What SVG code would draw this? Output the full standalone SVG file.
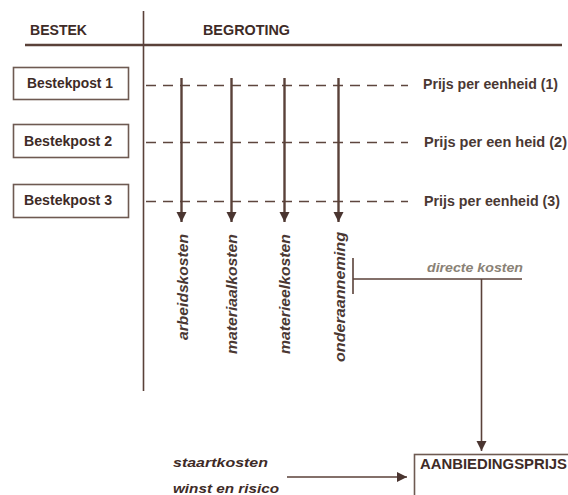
<svg xmlns="http://www.w3.org/2000/svg" width="568" height="495" viewBox="0 0 568 495">
  <style>
    .ink { fill: #3e2b27; font-family: "Liberation Sans", Arial, sans-serif; }
    .head { font-weight: bold; font-size: 14px; }
    .box { fill: #ffffff; stroke: #6e5a52; stroke-width: 1.6; }
    .lbl { font-weight: bold; font-size: 14px; }
    .price { font-size: 14px; font-weight: bold; fill: #4a3833; }
    .rot { font-size: 14px; font-weight: bold; font-style: italic; fill: #4a3833; }
    .line { stroke: #5a4139; stroke-width: 1.6; fill: none; }
    .thick { stroke: #5a4139; stroke-width: 2.4; fill: none; }
    .dash { stroke: #5e463e; stroke-width: 1.7; stroke-dasharray: 10 7; fill: none; }
    .grey { fill: #8a8276; font-family: "Liberation Sans", Arial, sans-serif; font-weight: bold; font-style: italic; font-size: 12px; }
    .it { font-weight: bold; font-style: italic; font-size: 13px; }
  </style>
  <defs>
    <marker id="head" viewBox="0 0 10 12" refX="10" refY="6" markerWidth="10" markerHeight="12" markerUnits="userSpaceOnUse" orient="auto">
      <path d="M0,1 L10,6 L0,11 Z" fill="#4a3530"/>
    </marker>
  </defs>

  <!-- column headers and frame -->
  <g id="header">
    <text class="ink head" x="30" y="35" textLength="57" lengthAdjust="spacingAndGlyphs">BESTEK</text>
    <text class="ink head" x="203" y="35" textLength="87" lengthAdjust="spacingAndGlyphs">BEGROTING</text>
    <line class="thick" x1="25" y1="45" x2="562" y2="45"/>
    <line class="line" x1="143.5" y1="11" x2="143.5" y2="391"/>
  </g>

  <!-- specification items -->
  <g id="bestekpost-1">
    <rect class="box" x="13.5" y="67.5" width="115" height="32"/>
    <text class="ink lbl" x="27" y="88" textLength="86" lengthAdjust="spacingAndGlyphs">Bestekpost 1</text>
  </g>
  <g id="bestekpost-2">
    <rect class="box" x="13.5" y="124.5" width="115" height="33"/>
    <text class="ink lbl" x="24" y="146" textLength="88" lengthAdjust="spacingAndGlyphs">Bestekpost 2</text>
  </g>
  <g id="bestekpost-3">
    <rect class="box" x="13.5" y="184.5" width="115" height="33"/>
    <text class="ink lbl" x="24" y="205" textLength="88" lengthAdjust="spacingAndGlyphs">Bestekpost 3</text>
  </g>

  <!-- unit prices -->
  <g id="prijs-1">
    <text class="ink price" x="423" y="89" textLength="135" lengthAdjust="spacingAndGlyphs">Prijs per eenheid (1)</text>
  </g>
  <g id="prijs-2">
    <text class="ink price" x="424" y="147" textLength="143" lengthAdjust="spacingAndGlyphs">Prijs per een heid (2)</text>
  </g>
  <g id="prijs-3">
    <text class="ink price" x="424" y="206" textLength="136" lengthAdjust="spacingAndGlyphs">Prijs per eenheid (3)</text>
  </g>

  <!-- cost categories -->
  <g id="arbeidskosten">
    <text class="ink rot" transform="translate(188,234) rotate(-90)" text-anchor="end" textLength="106" lengthAdjust="spacingAndGlyphs">arbeidskosten</text>
  </g>
  <g id="materiaalkosten">
    <text class="ink rot" transform="translate(237,234) rotate(-90)" text-anchor="end" textLength="120" lengthAdjust="spacingAndGlyphs">materiaalkosten</text>
  </g>
  <g id="materieelkosten">
    <text class="ink rot" transform="translate(290,234) rotate(-90)" text-anchor="end" textLength="120" lengthAdjust="spacingAndGlyphs">materieelkosten</text>
  </g>
  <g id="onderaanneming">
    <text class="ink rot" transform="translate(345,232) rotate(-90)" text-anchor="end" textLength="130" lengthAdjust="spacingAndGlyphs">onderaanneming</text>
  </g>

  <g id="directe-kosten">
    <text class="grey" x="427" y="272" textLength="96" lengthAdjust="spacingAndGlyphs">directe kosten</text>
  </g>

  <g id="staartkosten">
    <text class="ink it" x="173" y="467" textLength="95" lengthAdjust="spacingAndGlyphs">staartkosten</text>
    <text class="ink it" x="173" y="493" textLength="106" lengthAdjust="spacingAndGlyphs">winst en risico</text>
  </g>

  <g id="aanbiedingsprijs">
    <rect class="box" x="414.5" y="454.5" width="160" height="50"/>
    <text class="ink head" x="420" y="469" textLength="147" lengthAdjust="spacingAndGlyphs">AANBIEDINGSPRIJS</text>
  </g>

  <!-- connectors -->
  <g id="connectors">
    <line class="dash" x1="146" y1="85.5" x2="408" y2="85.5"/>
    <line class="dash" x1="146" y1="142.5" x2="408" y2="142.5"/>
    <line class="dash" x1="146" y1="201.5" x2="408" y2="201.5"/>

    <line class="thick" x1="181.5" y1="78" x2="181.5" y2="222" marker-end="url(#head)"/>
    <line class="thick" x1="231.5" y1="78" x2="231.5" y2="222" marker-end="url(#head)"/>
    <line class="thick" x1="284.5" y1="78" x2="284.5" y2="222" marker-end="url(#head)"/>
    <line class="thick" x1="338.5" y1="78" x2="338.5" y2="222" marker-end="url(#head)"/>

    <line class="line" x1="353" y1="258" x2="353" y2="294"/>
    <line class="line" x1="353" y1="279" x2="522" y2="279"/>
    <line class="line" x1="481.5" y1="279" x2="481.5" y2="451" marker-end="url(#head)"/>

    <line class="line" x1="287" y1="477" x2="407" y2="477" marker-end="url(#head)"/>
  </g>
</svg>
